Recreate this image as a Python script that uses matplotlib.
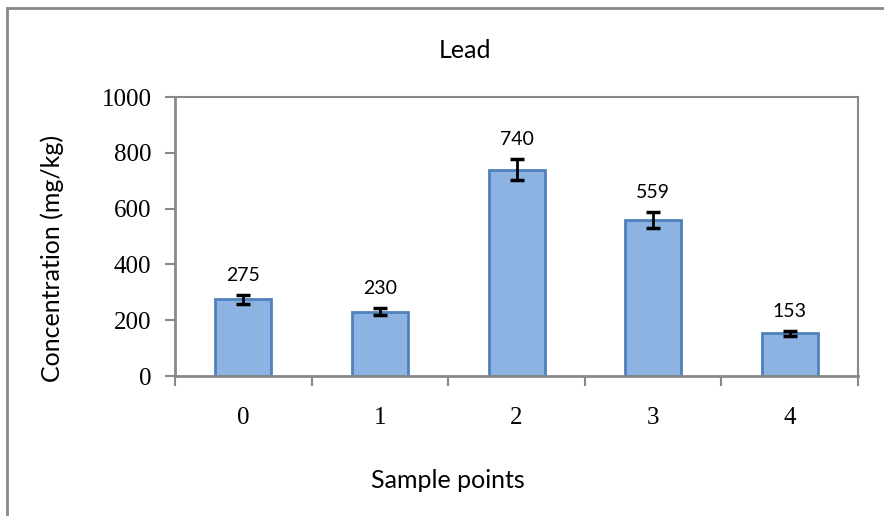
import matplotlib.pyplot as plt
from matplotlib.lines import Line2D

categories = ["0", "1", "2", "3", "4"]
values = [275, 230, 740, 559, 153]
errors = [16, 12, 39, 30, 9]
yticks = [0, 200, 400, 600, 800, 1000]

fig = plt.figure(figsize=(8.84, 5.16), dpi=100)
ax = fig.add_axes([0.198, 0.2713, 0.7726, 0.5407])

xs = list(range(len(categories)))
ax.bar(xs, values, width=0.41, color="#8db3e2", edgecolor="#4f81bd", linewidth=2, zorder=2)
ax.errorbar(xs, values, yerr=errors, fmt="none", ecolor="black", elinewidth=2,
            capsize=5, capthick=2.5, zorder=3)

for x, v, e in zip(xs, values, errors):
    ax.text(x, v + e + 40, str(v), ha="center", va="bottom", fontsize=14, family="Lato")

ax.set_xlim(-0.5, len(categories) - 0.5)
ax.set_ylim(0, 1000)
ax.set_yticks(yticks)
ax.set_yticklabels([str(t) for t in yticks], family="Liberation Serif", fontsize=18)
ax.set_xticks([x + 0.5 for x in xs[:-1]] + [-0.5, len(categories) - 0.5])
ax.set_xticklabels([])
for x, c in zip(xs, categories):
    ax.text(x, -0.15, c, transform=ax.get_xaxis_transform(), ha="center", va="center",
            family="Liberation Serif", fontsize=18)
ax.tick_params(axis="both", direction="out", length=7, width=1.5, color="#888888")
ax.tick_params(axis="y", pad=10)

for s in ax.spines.values():
    s.set_color("#888888")
    s.set_linewidth(1.5)
ax.spines["left"].set_linewidth(2)
ax.spines["bottom"].set_linewidth(2)

fig.text(52 / 884, 0.5, "Concentration (mg/kg)", rotation=90, ha="center", va="center",
         family="Lato", fontsize=18)
fig.text(0.507, 1 - 480 / 516, "Sample points", ha="center", va="center", family="Lato", fontsize=18)
fig.text(0.526, 1 - 51 / 516, "Lead", ha="center", va="center", family="Lato", fontsize=18)

# outer chart frame (only top and left edges show)
fig.add_artist(Line2D([7 / 884, 1], [1 - 8 / 516] * 2, transform=fig.transFigure, color="#888888", lw=2))
fig.add_artist(Line2D([7 / 884] * 2, [0, 1 - 8 / 516], transform=fig.transFigure, color="#888888", lw=2))

fig.savefig("out.png", dpi=100)
